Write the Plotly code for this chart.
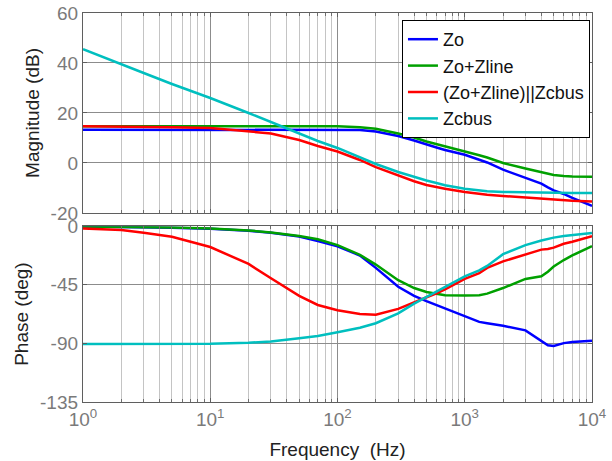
import plotly.graph_objects as go
from plotly.subplots import make_subplots

freq = [1, 2, 3, 5, 10, 20, 30, 50, 70, 100, 150, 200, 300, 400, 500, 600, 700,
        1000, 1300, 1500, 2000, 3000, 4000, 4500, 5000, 6000, 7000, 10000]

mag_zo = [13.3, 13.3, 13.3, 13.3, 13.3, 13.3, 13.3, 13.3, 13.3, 13.3, 13.2, 12.6, 10.8, 9.0, 7.3, 6.2, 5.2,
          3.3, 1.3, 0.2, -2.7, -5.8, -8.3, -9.8, -11.0, -12.4, -14.0, -17.2]
mag_zo_zline = [14.7, 14.7, 14.7, 14.7, 14.7, 14.7, 14.7, 14.7, 14.7, 14.7, 14.3, 13.7, 11.8, 10.2, 8.6, 7.6, 6.6,
                4.7, 3.1, 2.2, 0.0, -2.2, -3.5, -4.2, -4.8, -5.2, -5.4, -5.5]
mag_par = [14.7, 14.6, 14.5, 14.3, 14.0, 12.8, 11.8, 9.2, 6.8, 4.6, 1.2, -1.7, -5.0, -7.3, -8.8, -9.7, -10.3,
           -11.6, -12.4, -12.7, -13.2, -13.9, -14.4, -14.6, -14.8, -15.0, -15.1, -15.4]
mag_zcbus = [45.5, 39.7, 36.0, 31.6, 26.0, 20.0, 16.4, 11.8, 8.8, 6.0, 2.4, -0.4, -3.6, -5.6, -7.0, -8.0, -8.9,
             -10.3, -11.0, -11.3, -11.6, -11.8, -11.9, -11.9, -12.0, -12.0, -12.0, -12.0]

ph_zo = [-0.3, -0.5, -0.8, -1.2, -2.0, -3.5, -5.0, -8.0, -11.5, -15.5, -22.5, -32.0, -46.5, -53.5, -57.5, -60.5, -63.5,
         -69.0, -73.5, -74.5, -76.5, -80.0, -88.5, -91.5, -92.0, -89.8, -89.0, -88.0]
ph_zo_zline = [-0.2, -0.4, -0.6, -1.0, -1.8, -3.3, -4.8, -7.5, -10.0, -14.5, -22.0, -29.5, -41.5, -47.5, -50.5, -52.0, -53.0,
               -53.3, -53.0, -51.8, -47.5, -40.5, -38.5, -35.0, -31.0, -26.0, -22.5, -15.4]
ph_par = [-1.8, -3.0, -5.1, -8.2, -16.0, -29.0, -40.0, -53.5, -60.5, -64.5, -67.5, -68.0, -63.5, -58.5, -55.0, -51.5, -48.5,
          -40.5, -36.0, -32.0, -27.0, -21.5, -18.0, -17.5, -16.5, -13.5, -12.0, -7.7]
ph_zcbus = [-90.5, -90.5, -90.5, -90.5, -90.3, -89.5, -88.5, -86.0, -84.3, -81.5, -78.0, -74.5, -67.0, -59.5, -54.5, -50.5, -47.0,
            -38.5, -34.0, -30.5, -21.5, -14.5, -11.0, -9.8, -8.8, -7.6, -6.8, -5.2]

names = ["Zo", "Zo+Zline", "(Zo+Zline)||Zcbus", "Zcbus"]
colors = ["#0000ff", "#00a000", "#ff0000", "#00bfbf"]
mags = [mag_zo, mag_zo_zline, mag_par, mag_zcbus]
phases = [ph_zo, ph_zo_zline, ph_par, ph_zcbus]

x_major = [1, 10, 100, 1000, 10000]
x_major_text = ["10<sup>0</sup>", "10<sup>1</sup>", "10<sup>2</sup>", "10<sup>3</sup>", "10<sup>4</sup>"]
x_minor = [k * 10 ** d for d in range(4) for k in range(2, 10)]
mag_ticks = [-20, 0, 20, 40, 60]
mag_text = ["-20", "0", "20", "40", "60"]
ph_ticks = [-135, -90, -45, 0]
ph_text = ["-135", "-90", "-45", "0"]

fig = make_subplots(rows=2, cols=1, shared_xaxes=True)

for i in range(4):
    fig.add_trace(go.Scatter(x=freq, y=mags[i], mode="lines", name=names[i],
                             line=dict(color=colors[i], width=2.5),
                             legendgroup=names[i]), row=1, col=1)
    fig.add_trace(go.Scatter(x=freq, y=phases[i], mode="lines", name=names[i],
                             line=dict(color=colors[i], width=2.5),
                             legendgroup=names[i], showlegend=False), row=2, col=1)

FONT = "Arial, Liberation Sans, Helvetica, sans-serif"
FS = 19
axis_common = dict(
    showline=True, linecolor="#5f5f5f", linewidth=1.3, mirror="allticks",
    ticks="inside", ticklen=4, tickcolor="#5f5f5f",
    showgrid=True, gridcolor="#8c8c8c", gridwidth=1,
    zeroline=False, automargin=False,
    tickfont=dict(family=FONT, size=FS, color="#7a7a7a"),
)
xaxis_common = dict(
    axis_common, type="log", range=[0, 4],
    tickmode="array", tickvals=x_major, ticktext=x_major_text,
    minor=dict(tickmode="array", tickvals=x_minor, ticks="inside", ticklen=3,
               tickcolor="#6f6f6f", showgrid=True, gridcolor="#c4c4c4", gridwidth=1),
)

fig.update_layout(
    width=612, height=461,
    margin=dict(l=83, r=20, t=13, b=59),
    paper_bgcolor="white", plot_bgcolor="white",
    font=dict(family=FONT, size=FS, color="#222222"),
    xaxis=dict(xaxis_common, domain=[0, 1], showticklabels=False, anchor="y"),
    xaxis2=dict(xaxis_common, domain=[0, 1], anchor="y2",
                title=dict(text="Frequency\u00a0 (Hz)", font=dict(family=FONT, size=FS, color="#222222"),
                           standoff=13)),
    yaxis=dict(axis_common, domain=[0.486, 1], range=[-20, 60],
               tickmode="array", tickvals=mag_ticks, ticktext=mag_text,
               title=dict(text="Magnitude (dB)", font=dict(family=FONT, size=FS, color="#222222"),
                          standoff=5)),
    yaxis2=dict(axis_common, domain=[0, 0.452], range=[-135, 0],
                tickmode="array", tickvals=ph_ticks, ticktext=ph_text,
                title=dict(text="Phase (deg)", font=dict(family=FONT, size=FS, color="#222222"),
                           standoff=6)),
    legend=dict(x=0.996, y=0.982, xanchor="right", yanchor="top",
                bgcolor="white", bordercolor="#000000", borderwidth=1,
                font=dict(family=FONT, size=18, color="#111111"),
                tracegroupgap=0),
    showlegend=True,
)

fig.write_html("out.html", config={"displayModeBar": False},
               post_script="document.body.style.margin='0px';")
